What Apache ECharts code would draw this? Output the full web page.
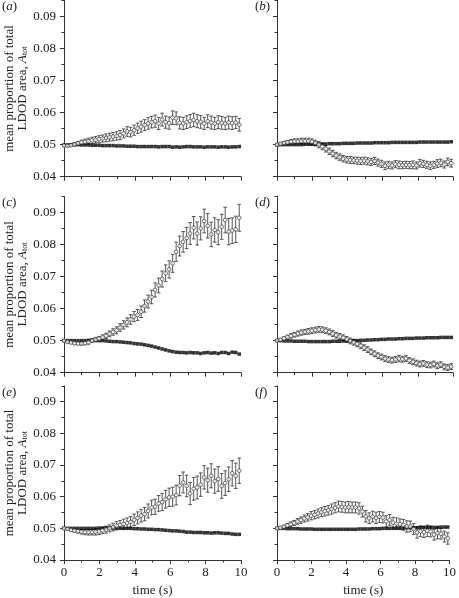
<!DOCTYPE html>
<html><head><meta charset="utf-8">
<script src="https://cdn.jsdelivr.net/npm/echarts@6/dist/echarts.min.js"></script>
<style>html,body{margin:0;padding:0;background:#fff}#c{width:459px;height:598px}</style>
</head><body><div id="c"></div><script>
const times = [
 0, 0.198, 0.396, 0.594, 0.792, 0.99, 1.188, 1.386, 1.584, 1.782,
 1.98, 2.178, 2.376, 2.574, 2.772, 2.97, 3.168, 3.366, 3.564, 3.762,
 3.96, 4.158, 4.356, 4.554, 4.752, 4.95, 5.148, 5.346, 5.544, 5.742,
 5.94, 6.138, 6.336, 6.534, 6.732, 6.93, 7.128, 7.326, 7.524, 7.722,
 7.92, 8.118, 8.316, 8.514, 8.712, 8.91, 9.108, 9.306, 9.504, 9.702,
 9.9];
const panelLetters = ['a','b','c','d','e','f'];
const xTickLabels = [0, 2, 4, 6, 8, 10];
const xMinorTicks = [1, 3, 5, 7, 9];
const yTickLabels = [0.04, 0.05, 0.06, 0.07, 0.08, 0.09];
const yMinorTicks = [0.045, 0.055, 0.065, 0.075, 0.085, 0.095];

// panel (a)
const aOpen = [
 0.0497,0.0496,0.0498,0.0501,0.0504,0.0507,0.0509,0.0511,0.0513,0.0515,
 0.0517,0.0519,0.0521,0.0523,0.0525,0.0527,0.0530,0.0535,0.0541,0.0539,
 0.0545,0.0551,0.0556,0.0561,0.0566,0.0570,0.0573,0.0566,0.0578,0.0570,
 0.0567,0.0584,0.0582,0.0568,0.0566,0.0570,0.0574,0.0577,0.0573,0.0571,
 0.0566,0.0573,0.0569,0.0566,0.0570,0.0568,0.0566,0.0569,0.0567,0.0569,
 0.0562];
const aErr = [
 0.0002,0.0003,0.0004,0.0005,0.0006,0.0007,0.0008,0.0009,0.0010,0.0010,
 0.0011,0.0011,0.0012,0.0012,0.0013,0.0013,0.0014,0.0014,0.0015,0.0015,
 0.0016,0.0016,0.0017,0.0017,0.0018,0.0018,0.0019,0.0019,0.0020,0.0019,
 0.0019,0.0021,0.0020,0.0019,0.0019,0.0020,0.0020,0.0021,0.0020,0.0020,
 0.0019,0.0020,0.0020,0.0019,0.0020,0.0020,0.0019,0.0020,0.0020,0.0019,
 0.0020];
const aFilled = [
 0.0499,0.0499,0.0500,0.0500,0.0500,0.0499,0.0499,0.0499,0.0498,0.0498,
 0.0498,0.0497,0.0497,0.0497,0.0497,0.0496,0.0496,0.0496,0.0495,0.0495,
 0.0495,0.0494,0.0494,0.0494,0.0494,0.0494,0.0494,0.0493,0.0494,0.0494,
 0.0494,0.0492,0.0493,0.0492,0.0493,0.0494,0.0494,0.0493,0.0493,0.0493,
 0.0492,0.0493,0.0493,0.0493,0.0492,0.0493,0.0493,0.0492,0.0493,0.0493,
 0.0494];

// panel (b)
const bOpen = [
 0.0500,0.0503,0.0505,0.0507,0.0509,0.0510,0.0510,0.0511,0.0511,0.0511,
 0.0509,0.0505,0.0500,0.0494,0.0487,0.0479,0.0472,0.0466,0.0461,0.0456,
 0.0453,0.0452,0.0451,0.0450,0.0449,0.0450,0.0448,0.0446,0.0449,0.0444,
 0.0440,0.0434,0.0437,0.0435,0.0439,0.0437,0.0436,0.0437,0.0436,0.0437,
 0.0435,0.0442,0.0440,0.0437,0.0434,0.0437,0.0441,0.0443,0.0438,0.0446,
 0.0442];
const bErr = [
 0.0003,0.0004,0.0005,0.0006,0.0007,0.0008,0.0008,0.0009,0.0009,0.0009,
 0.0009,0.0009,0.0010,0.0010,0.0010,0.0010,0.0010,0.0010,0.0010,0.0010,
 0.0010,0.0011,0.0010,0.0011,0.0011,0.0011,0.0011,0.0011,0.0011,0.0011,
 0.0011,0.0012,0.0011,0.0011,0.0011,0.0012,0.0011,0.0011,0.0011,0.0012,
 0.0011,0.0012,0.0011,0.0011,0.0012,0.0011,0.0012,0.0012,0.0011,0.0012,
 0.0012];
const bFilled = [
 0.0499,0.0500,0.0500,0.0500,0.0500,0.0500,0.0500,0.0500,0.0501,0.0501,
 0.0501,0.0501,0.0502,0.0502,0.0502,0.0503,0.0503,0.0503,0.0503,0.0504,
 0.0504,0.0504,0.0504,0.0505,0.0505,0.0505,0.0505,0.0505,0.0506,0.0506,
 0.0506,0.0506,0.0506,0.0507,0.0507,0.0507,0.0507,0.0507,0.0507,0.0507,
 0.0507,0.0508,0.0508,0.0508,0.0508,0.0508,0.0508,0.0508,0.0508,0.0508,
 0.0509];

// panel (c)
const cOpen = [
 0.0500,0.0496,0.0494,0.0492,0.0491,0.0491,0.0492,0.0495,0.0500,0.0503,
 0.0506,0.0510,0.0515,0.0521,0.0527,0.0532,0.0541,0.0549,0.0557,0.0566,
 0.0575,0.0580,0.0590,0.0608,0.0622,0.0636,0.0658,0.0672,0.0692,0.0710,
 0.0722,0.0741,0.0777,0.0795,0.0808,0.0820,0.0834,0.0852,0.0834,0.0850,
 0.0873,0.0858,0.0831,0.0845,0.0838,0.0855,0.0876,0.0840,0.0843,0.0847,
 0.0883];
const cErr = [
 0.0002,0.0003,0.0003,0.0004,0.0004,0.0005,0.0005,0.0006,0.0006,0.0007,
 0.0007,0.0008,0.0008,0.0009,0.0010,0.0011,0.0012,0.0013,0.0014,0.0015,
 0.0016,0.0017,0.0018,0.0019,0.0020,0.0021,0.0022,0.0023,0.0025,0.0026,
 0.0027,0.0028,0.0030,0.0031,0.0032,0.0033,0.0034,0.0035,0.0036,0.0036,
 0.0037,0.0038,0.0038,0.0038,0.0039,0.0039,0.0040,0.0041,0.0040,0.0041,
 0.0042];
const cFilled = [
 0.0500,0.0500,0.0500,0.0500,0.0500,0.0500,0.0500,0.0501,0.0501,0.0501,
 0.0500,0.0500,0.0499,0.0498,0.0497,0.0497,0.0496,0.0495,0.0494,0.0493,
 0.0491,0.0490,0.0489,0.0487,0.0485,0.0483,0.0480,0.0477,0.0474,0.0471,
 0.0468,0.0466,0.0464,0.0463,0.0463,0.0462,0.0463,0.0462,0.0462,0.0460,
 0.0462,0.0463,0.0461,0.0462,0.0460,0.0463,0.0463,0.0460,0.0464,0.0463,
 0.0458];

// panel (d)
const dOpen = [
 0.0500,0.0503,0.0507,0.0511,0.0515,0.0518,0.0522,0.0525,0.0527,0.0529,
 0.0531,0.0533,0.0535,0.0534,0.0531,0.0527,0.0522,0.0517,0.0513,0.0509,
 0.0504,0.0499,0.0495,0.0490,0.0484,0.0478,0.0472,0.0465,0.0459,0.0453,
 0.0449,0.0444,0.0441,0.0439,0.0441,0.0444,0.0442,0.0444,0.0438,0.0434,
 0.0430,0.0427,0.0429,0.0425,0.0424,0.0427,0.0422,0.0425,0.0418,0.0416,
 0.0419];
const dErr = [
 0.0003,0.0004,0.0005,0.0006,0.0007,0.0007,0.0008,0.0008,0.0008,0.0009,
 0.0009,0.0009,0.0009,0.0009,0.0009,0.0009,0.0009,0.0009,0.0009,0.0009,
 0.0009,0.0009,0.0009,0.0009,0.0009,0.0009,0.0009,0.0009,0.0009,0.0009,
 0.0009,0.0009,0.0009,0.0009,0.0009,0.0010,0.0009,0.0009,0.0009,0.0009,
 0.0009,0.0009,0.0009,0.0009,0.0009,0.0009,0.0009,0.0009,0.0009,0.0009,
 0.0009];
const dFilled = [
 0.0500,0.0500,0.0499,0.0499,0.0499,0.0498,0.0498,0.0498,0.0498,0.0497,
 0.0497,0.0497,0.0497,0.0497,0.0497,0.0497,0.0498,0.0498,0.0498,0.0499,
 0.0499,0.0499,0.0500,0.0500,0.0501,0.0501,0.0502,0.0502,0.0503,0.0503,
 0.0504,0.0504,0.0505,0.0505,0.0505,0.0506,0.0506,0.0507,0.0507,0.0507,
 0.0508,0.0508,0.0508,0.0509,0.0509,0.0509,0.0509,0.0510,0.0510,0.0510,
 0.0510];

// panel (e)
const eOpen = [
 0.0500,0.0498,0.0495,0.0493,0.0491,0.0489,0.0488,0.0488,0.0488,0.0489,
 0.0490,0.0493,0.0496,0.0500,0.0504,0.0508,0.0511,0.0514,0.0517,0.0520,
 0.0527,0.0533,0.0540,0.0545,0.0555,0.0566,0.0568,0.0579,0.0583,0.0592,
 0.0598,0.0600,0.0605,0.0635,0.0645,0.0634,0.0610,0.0625,0.0629,0.0638,
 0.0661,0.0652,0.0666,0.0649,0.0656,0.0634,0.0643,0.0655,0.0674,0.0666,
 0.0682];
const eErr = [
 0.0002,0.0003,0.0004,0.0005,0.0006,0.0007,0.0008,0.0009,0.0009,0.0010,
 0.0010,0.0010,0.0011,0.0011,0.0012,0.0013,0.0014,0.0015,0.0016,0.0017,
 0.0018,0.0019,0.0020,0.0021,0.0022,0.0023,0.0024,0.0025,0.0027,0.0028,
 0.0029,0.0030,0.0031,0.0032,0.0033,0.0034,0.0035,0.0036,0.0036,0.0037,
 0.0037,0.0038,0.0038,0.0038,0.0039,0.0039,0.0039,0.0039,0.0040,0.0040,
 0.0040];
const eFilled = [
 0.0500,0.0500,0.0500,0.0500,0.0500,0.0500,0.0500,0.0500,0.0500,0.0500,
 0.0501,0.0501,0.0501,0.0501,0.0501,0.0501,0.0501,0.0500,0.0500,0.0500,
 0.0499,0.0499,0.0498,0.0498,0.0497,0.0497,0.0496,0.0496,0.0495,0.0494,
 0.0493,0.0492,0.0492,0.0491,0.0490,0.0488,0.0488,0.0487,0.0487,0.0487,
 0.0486,0.0486,0.0485,0.0486,0.0486,0.0485,0.0484,0.0484,0.0482,0.0481,
 0.0481];

// panel (f)
const fOpen = [
 0.0500,0.0502,0.0505,0.0509,0.0513,0.0517,0.0522,0.0526,0.0531,0.0535,
 0.0540,0.0543,0.0547,0.0551,0.0554,0.0557,0.0561,0.0565,0.0569,0.0568,
 0.0566,0.0567,0.0566,0.0566,0.0563,0.0553,0.0538,0.0532,0.0537,0.0533,
 0.0536,0.0534,0.0522,0.0527,0.0518,0.0515,0.0513,0.0511,0.0506,0.0506,
 0.0498,0.0487,0.0491,0.0488,0.0492,0.0490,0.0480,0.0485,0.0483,0.0474,
 0.0468];
const fErr = [
 0.0003,0.0004,0.0005,0.0006,0.0007,0.0008,0.0009,0.0010,0.0011,0.0012,
 0.0013,0.0013,0.0014,0.0014,0.0015,0.0015,0.0016,0.0016,0.0017,0.0017,
 0.0017,0.0018,0.0017,0.0017,0.0018,0.0017,0.0018,0.0017,0.0017,0.0018,
 0.0017,0.0017,0.0018,0.0017,0.0017,0.0018,0.0017,0.0017,0.0018,0.0017,
 0.0017,0.0018,0.0017,0.0017,0.0018,0.0017,0.0017,0.0018,0.0017,0.0017,
 0.0018];
const fFilled = [
 0.0500,0.0500,0.0500,0.0499,0.0499,0.0499,0.0499,0.0498,0.0498,0.0498,
 0.0498,0.0497,0.0497,0.0497,0.0497,0.0497,0.0497,0.0497,0.0497,0.0497,
 0.0497,0.0497,0.0497,0.0497,0.0498,0.0498,0.0498,0.0498,0.0499,0.0499,
 0.0499,0.0500,0.0500,0.0500,0.0500,0.0501,0.0501,0.0501,0.0502,0.0502,
 0.0502,0.0502,0.0502,0.0503,0.0503,0.0503,0.0503,0.0503,0.0504,0.0504,
 0.0504];

const panels = [
 {open: aOpen, err: aErr, filled: aFilled},
 {open: bOpen, err: bErr, filled: bFilled},
 {open: cOpen, err: cErr, filled: cFilled},
 {open: dOpen, err: dErr, filled: dFilled},
 {open: eOpen, err: eErr, filled: eFilled},
 {open: fOpen, err: fErr, filled: fFilled}
];

const FONT = '"Liberation Serif", "Times New Roman", serif';
const colLeft = [64, 277];
const colWidth = [177, 176];
const rowTop = [0.3, 196.3, 385.9];
const gridH = 176.4;

const grids = [], xAxes = [], yAxes = [], series = [], graphics = [];
panels.forEach((p, g) => {
  const col = g % 2, row = Math.floor(g / 2);
  grids.push({left: colLeft[col], top: rowTop[row], width: colWidth[col], height: gridH, containLabel: false});
  const axLine = {show: true, lineStyle: {color: '#333', width: 1}};
  xAxes.push({
    gridIndex: g, type: 'value', min: 0, max: 10, position: 'bottom',
    axisLine: axLine,
    axisTick: {show: true, length: 4, lineStyle: {color: '#333'}, customValues: xTickLabels},
    axisLabel: {show: row === 2, customValues: xTickLabels, fontFamily: FONT, fontSize: 13, color: '#222', margin: 6},
    splitLine: {show: false},
    name: row === 2 ? 'time (s)' : '', nameLocation: 'middle', nameGap: 24,
    nameTextStyle: {fontFamily: FONT, fontSize: 13, color: '#222'}
  });
  xAxes.push({
    gridIndex: g, type: 'value', min: 0, max: 10, position: 'bottom',
    axisLine: {show: false},
    axisTick: {show: true, length: 2.5, lineStyle: {color: '#333'}, customValues: xMinorTicks},
    axisLabel: {show: false}, splitLine: {show: false}
  });
  yAxes.push({
    gridIndex: g, type: 'value', min: 0.04, max: 0.095, position: 'left',
    axisLine: axLine,
    axisTick: {show: true, length: 4, lineStyle: {color: '#333'}, customValues: yTickLabels},
    axisLabel: {show: col === 0, customValues: yTickLabels, formatter: v => v.toFixed(2),
      fontFamily: FONT, fontSize: 13, color: '#222', margin: 8},
    splitLine: {show: false},
    name: col === 0 ? 'mean proportion of total\nLDOD area, {i|A}{sub|tot}' : '',
    nameLocation: 'middle', nameRotate: 90, nameGap: 34,
    nameTextStyle: {fontFamily: FONT, fontSize: 13, color: '#222', lineHeight: 13,
      rich: {i: {fontFamily: FONT, fontSize: 13, fontStyle: 'italic', color: '#222', lineHeight: 13},
             sub: {fontFamily: FONT, fontSize: 8, color: '#222', verticalAlign: 'bottom', lineHeight: 13}}}
  });
  yAxes.push({
    gridIndex: g, type: 'value', min: 0.04, max: 0.095, position: 'left',
    axisLine: {show: false},
    axisTick: {show: true, length: 2.5, lineStyle: {color: '#333'}, customValues: yMinorTicks},
    axisLabel: {show: false}, splitLine: {show: false}
  });
  const xi = g * 2, yi = g * 2;
  series.push({
    type: 'custom', xAxisIndex: xi, yAxisIndex: yi, z: 2,
    data: times.map((t, i) => [t, p.open[i] - p.err[i], p.open[i] + p.err[i]]),
    encode: {x: 0, y: [1, 2]},
    renderItem: (params, api) => {
      const x = api.value(0);
      const a = api.coord([x, api.value(2)]);
      const b = api.coord([x, api.value(1)]);
      const w = 1.8;
      const st = {stroke: '#444', lineWidth: 0.9};
      return {type: 'group', children: [
        {type: 'line', shape: {x1: a[0], y1: a[1], x2: b[0], y2: b[1]}, style: st},
        {type: 'line', shape: {x1: a[0] - w, y1: a[1], x2: a[0] + w, y2: a[1]}, style: st},
        {type: 'line', shape: {x1: b[0] - w, y1: b[1], x2: b[0] + w, y2: b[1]}, style: st}
      ]};
    }
  });
  series.push({
    type: 'scatter', xAxisIndex: xi, yAxisIndex: yi, z: 3,
    symbol: 'rect', symbolSize: 3.5,
    itemStyle: {color: '#000'},
    data: times.map((t, i) => [t, p.filled[i]])
  });
  series.push({
    type: 'scatter', xAxisIndex: xi, yAxisIndex: yi, z: 4,
    symbol: 'circle', symbolSize: 3.7,
    itemStyle: {color: '#fff', borderColor: '#333', borderWidth: 0.8},
    data: times.map((t, i) => [t, p.open[i]])
  });
  graphics.push({
    type: 'text', left: col === 0 ? 2 : 255, top: rowTop[row],
    style: {text: '({i|' + panelLetters[g] + '})', font: '13px "Liberation Serif"', fill: '#222',
      rich: {i: {fontFamily: FONT, fontSize: 13, fontStyle: 'italic', fill: '#222'}}}
  });
});

const chart = echarts.init(document.getElementById('c'), null, {renderer: 'canvas'});
chart.setOption({
  animation: false,
  backgroundColor: '#fff',
  grid: grids, xAxis: xAxes, yAxis: yAxes, series: series, graphic: graphics
});
</script></body></html>
